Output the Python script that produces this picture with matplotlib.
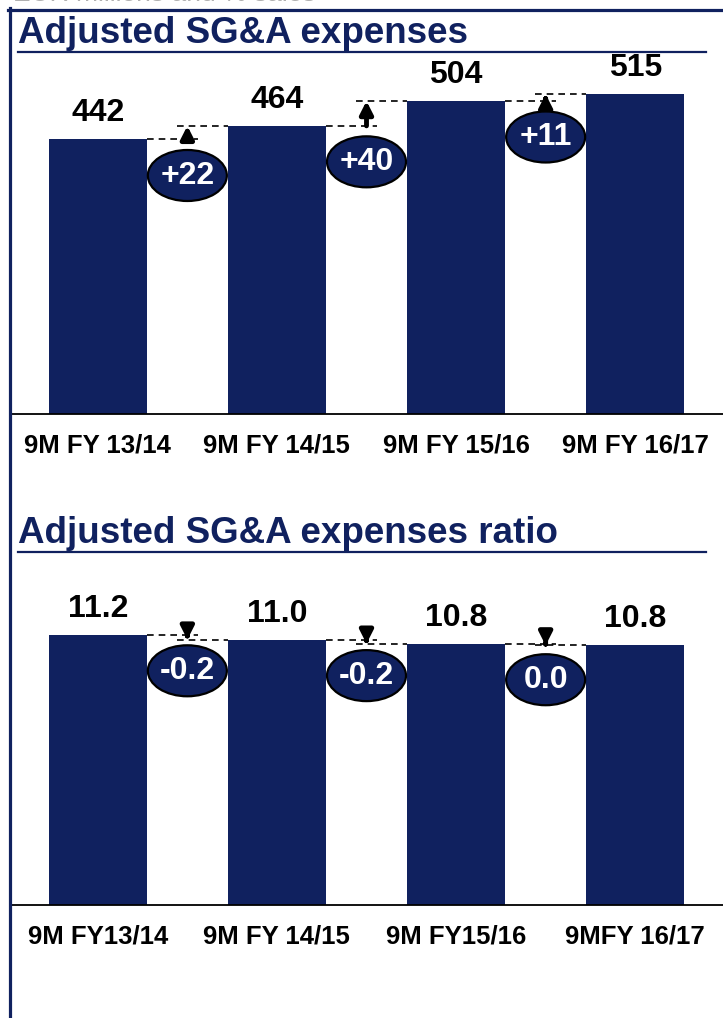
import matplotlib.pyplot as plt
import matplotlib.transforms as mtransforms
from matplotlib.patches import Ellipse
from matplotlib.lines import Line2D

plt.rcParams['font.family'] = ['Liberation Sans', 'DejaVu Sans']

# data
periods_top = ["9M FY 13/14", "9M FY 14/15", "9M FY 15/16", "9M FY 16/17"]
sga = [442, 464, 504, 515]
sga_labels = ["442", "464", "504", "515"]
sga_delta = ["+22", "+40", "+11"]

periods_bot = ["9M FY13/14", "9M FY 14/15", "9M FY15/16", "9MFY 16/17"]
ratio = [11.2, 11.0, 10.83, 10.76]
ratio_labels = ["11.2", "11.0", "10.8", "10.8"]
ratio_delta = ["-0.2", "-0.2", "0.0"]

navy = '#10215f'
W, H = 723, 1018

fig = plt.figure(figsize=(W / 100, H / 100), dpi=100)


def px_axes(left, top, right, bottom):
    return fig.add_axes([left / W, 1 - bottom / H, (right - left) / W, (bottom - top) / H])


def draw_panel(ax, vals, labels, deltas, cats, ymax):
    x = list(range(len(vals)))
    ax.bar(x, vals, width=0.55, color=navy, zorder=2)
    ax.set_xlim(-0.49, 3.49)
    ax.set_ylim(0, ymax)
    for s in ['top', 'right', 'left']:
        ax.spines[s].set_visible(False)
    ax.spines['bottom'].set_linewidth(1.3)
    ax.set_yticks([])
    ax.set_xticks(x)
    ax.set_xticklabels(cats, fontsize=18.5, fontweight='bold')
    ax.tick_params(axis='x', length=0, pad=14)

    # value labels
    for i, v in enumerate(vals):
        ax.annotate(labels[i], (i, v), xytext=(0, 8), textcoords='offset points',
                    ha='center', va='bottom', fontsize=23, fontweight='bold')

    # change markers between bars
    for i, d in enumerate(deltas):
        v0, v1 = vals[i], vals[i + 1]
        xm = i + 0.5
        ax.plot([i + 0.275, xm + 0.06], [v0, v0], color='black', lw=1.2, dashes=(4, 3), zorder=3)
        ax.plot([xm - 0.06, i + 1 - 0.275], [v1, v1], color='black', lw=1.2, dashes=(4, 3), zorder=3)
        ax.annotate('', xy=(xm, v1), xytext=(xm, v0),
                    arrowprops=dict(arrowstyle='-|>,head_length=0.75,head_width=0.38',
                                    color='black', lw=3.5, shrinkA=0, shrinkB=0,
                                    mutation_scale=10), zorder=3)
        tr = fig.dpi_scale_trans + mtransforms.ScaledTranslation(xm, v0, ax.transData)
        ax.add_patch(Ellipse((0, -0.36), 0.79, 0.51, transform=tr, facecolor=navy,
                             edgecolor='black', lw=1.6, zorder=4))
        ax.annotate(d, (xm, v0), xytext=(0, -26), textcoords='offset points',
                    ha='center', va='center', color='white', fontsize=23,
                    fontweight='bold', zorder=5)


ax1 = px_axes(10, 60, 723, 414)
draw_panel(ax1, sga, sga_labels, sga_delta, periods_top, 570)

ax2 = px_axes(10, 560, 723, 905)
draw_panel(ax2, ratio, ratio_labels, ratio_delta, periods_bot, 14.3)

# frame, headings
fig.add_artist(Line2D([9.5 / W, 9.5 / W], [0, 1 - 8 / H], color=navy, lw=2.3))
fig.add_artist(Line2D([8 / W, 1], [1 - 9.5 / H, 1 - 9.5 / H], color=navy, lw=2.3))
fig.text(13 / W, 1 - 1 / H, "EUR millions and % sales", color='#b0b0b0', fontsize=19,
         va='baseline')

fig.text(18 / W, 1 - 43 / H, "Adjusted SG&A expenses", color=navy, fontsize=26.5,
         fontweight='bold', va='baseline')
fig.add_artist(Line2D([18 / W, 706 / W], [1 - 52 / H, 1 - 52 / H], color=navy, lw=1.6))

fig.text(18 / W, 1 - 543 / H, "Adjusted SG&A expenses ratio", color=navy, fontsize=26.5,
         fontweight='bold', va='baseline')
fig.add_artist(Line2D([18 / W, 706 / W], [1 - 552 / H, 1 - 552 / H], color=navy, lw=1.6))

fig.savefig('out.png', dpi=100)
